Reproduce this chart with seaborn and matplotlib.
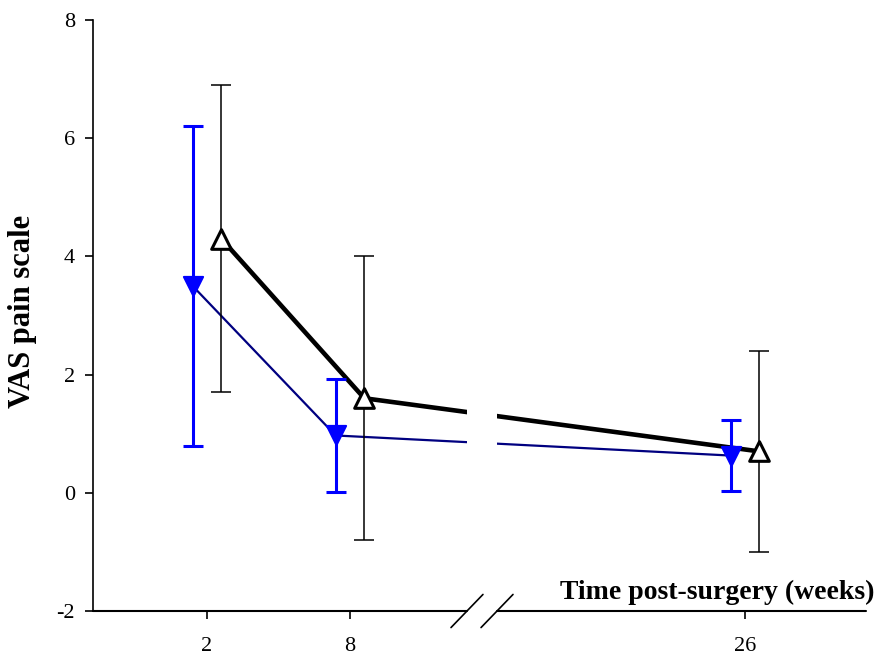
import numpy as np
import pandas as pd
import matplotlib
matplotlib.use("Agg")
import matplotlib.pyplot as plt
import seaborn as sns

# ---- data ----
weeks = [2, 8, 26]
tick_labels = ["2", "8", "26"]
blue_mean = [3.5, 0.97, 0.63]
blue_sd = [2.7, 0.95, 0.60]
black_mean = [4.3, 1.6, 0.70]
black_sd = [2.6, 2.4, 1.7]
y_ticks = [-2, 0, 2, 4, 6, 8]

# axis positions (with a break between 8 and 26 weeks)
axis_pos = [2, 8, 24.58]
break_lo, break_hi = 12.91, 14.17
offset = 0.6

sns.set_theme(style="white")
plt.rcParams['font.family'] = ['Liberation Serif', 'DejaVu Serif']
plt.rcParams['axes.unicode_minus'] = False
plt.rcParams['text.color'] = 'black'
plt.rcParams['xtick.color'] = 'black'
plt.rcParams['ytick.color'] = 'black'

fig = plt.figure(figsize=(8.77, 6.59), dpi=100)
ax = fig.add_axes([93/877, 48/659, (866-93)/877, (611-20)/659])

pos = np.array(axis_pos)
df_blue = pd.DataFrame({"x": pos - offset, "y": blue_mean})
df_black = pd.DataFrame({"x": pos + offset, "y": black_mean})

# connecting lines
sns.lineplot(data=df_blue, x="x", y="y", ax=ax, color="#000080", lw=1.6,
             sort=False, zorder=2)
sns.lineplot(data=df_black, x="x", y="y", ax=ax, color="black", lw=3.3,
             sort=False, zorder=2)

# gap in lines at axis break
ax.axvspan(break_lo, break_hi, color="white", zorder=2.5, lw=0)

# error bars
ax.errorbar(df_blue["x"], df_blue["y"], yerr=blue_sd, fmt="none",
            ecolor="#0000FF", elinewidth=2.2, capsize=7, capthick=2.2, zorder=3)
ax.errorbar(df_black["x"], df_black["y"], yerr=black_sd, fmt="none",
            ecolor="black", elinewidth=1.1, capsize=7, capthick=1.1, zorder=3)

# markers
sns.scatterplot(data=df_blue, x="x", y="y", ax=ax, marker="v", s=190,
                color="#0000FF", edgecolor="#0000FF", linewidth=1.5, zorder=4)
sns.scatterplot(data=df_black, x="x", y="y", ax=ax, marker="^", s=200,
                color="white", edgecolor="black", linewidth=2.2, zorder=4)

ax.set_xlim(-2.78, 29.65)
ax.set_ylim(-2, 8)
ax.set_yticks(y_ticks)
ax.set_yticklabels([str(t) for t in y_ticks])
ax.set_xticks(axis_pos)
ax.set_xticklabels(tick_labels)
ax.set_xlabel("")
ax.set_ylabel("")

for s in ["top", "right", "bottom"]:
    ax.spines[s].set_visible(False)
ax.spines["left"].set_color("black")
ax.spines["left"].set_linewidth(1.2)

ax.tick_params(axis="both", which="major", direction="out", length=6,
               width=1.2, color="black", labelcolor="black", labelsize=16,
               bottom=True, left=True)
ax.tick_params(axis="x", pad=13)
ax.tick_params(axis="y", pad=7)

# broken bottom axis
ax.plot([-2.78, break_lo], [-2, -2], color="black", lw=1.5, clip_on=False, zorder=5)
ax.plot([break_hi, 29.65], [-2, -2], color="black", lw=1.5, clip_on=False, zorder=5)
dx, dy = 0.67, 0.28
for xb in (break_lo, break_hi):
    ax.plot([xb - dx, xb + dx], [-2 - dy, -2 + dy], color="black", lw=1.2,
            clip_on=False, zorder=5)

fig.text(875/877, 1 - 599/659, "Time post-surgery (weeks)", ha="right",
         va="baseline", fontsize=20, fontweight="bold", color="black")
fig.text(23/877, 1 - 311/659, "VAS pain scale", ha="center", va="center",
         rotation=90, fontsize=22, fontweight="bold", color="black")

fig.savefig("out.png", dpi=100)
